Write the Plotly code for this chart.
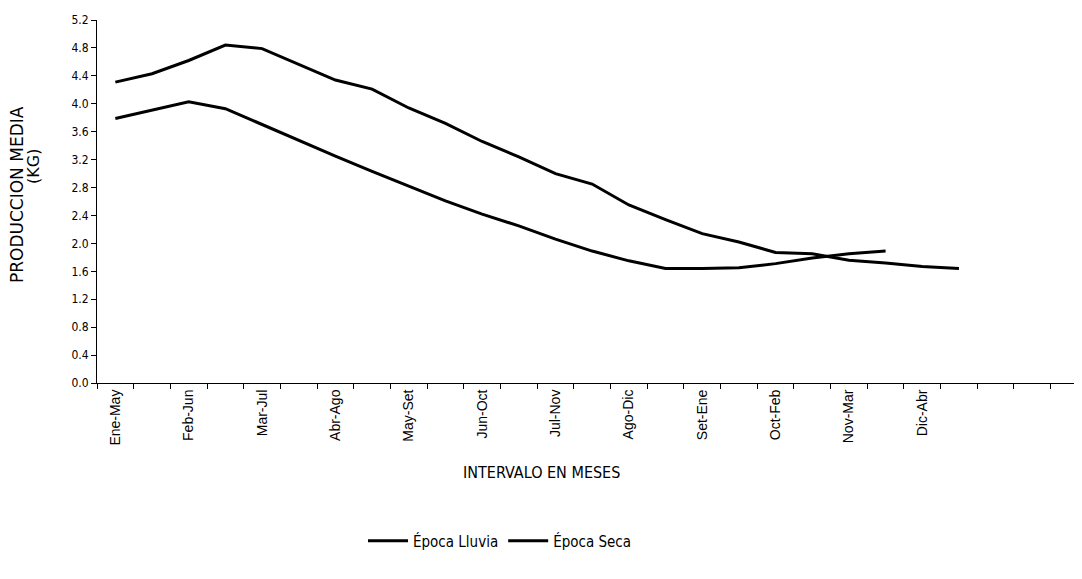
import plotly.graph_objects as go

# Interval labels (every other category is labelled)
tick_labels = ["Ene-May", "Feb-Jun", "Mar-Jul", "Abr-Ago", "May-Set", "Jun-Oct",
               "Jul-Nov", "Ago-Dic", "Set-Ene", "Oct-Feb", "Nov-Mar", "Dic-Abr"]
tick_positions = [0, 2, 4, 6, 8, 10, 12, 14, 16, 18, 20, 22]

# Series values (kg), one per category position
lluvia = [4.31, 4.43, 4.62, 4.84, 4.79, 4.56, 4.34, 4.21, 3.94, 3.72, 3.46, 3.24,
          3.00, 2.85, 2.55, 2.34, 2.14, 2.02, 1.87, 1.85, 1.76, 1.72, 1.67, 1.64]
seca = [3.79, 3.91, 4.03, 3.93, 3.70, 3.47, 3.25, 3.03, 2.82, 2.61, 2.42, 2.25,
        2.06, 1.89, 1.75, 1.64, 1.64, 1.65, 1.71, 1.79, 1.85, 1.89]

x_lluvia = list(range(len(lluvia)))
x_seca = list(range(len(seca)))

FONT = "Liberation Sans Narrow, DejaVu Sans Condensed, Arial Narrow, sans-serif"

fig = go.Figure()
fig.add_trace(go.Scatter(x=x_lluvia, y=lluvia, mode="lines", name="Época Lluvia",
                         line=dict(color="black", width=3)))
fig.add_trace(go.Scatter(x=x_seca, y=seca, mode="lines", name="Época Seca",
                         line=dict(color="black", width=3)))

OFF = 8  # page body margin
W, H = 1082 - OFF, 579 - OFF
L, T = 97 - OFF, 20 - OFF
R = W - (1080 - OFF)
B = H - (383 - OFF)
plot_w = W - L - R
plot_h = H - T - B

def px_to_paper_x(px):
    return (px - OFF - L) / plot_w

def px_to_paper_y(py):
    return (H - B - (py - OFF)) / plot_h

fig.update_layout(
    width=W, height=H,
    margin=dict(l=L, r=R, t=T, b=B, pad=0),
    paper_bgcolor="white", plot_bgcolor="white",
    font=dict(family=FONT, color="black", size=12),
    showlegend=True,
    legend=dict(orientation="h", x=px_to_paper_x(500), y=px_to_paper_y(541),
                xanchor="center", yanchor="middle",
                font=dict(size=15, family=FONT), itemwidth=40,
                bgcolor="rgba(0,0,0,0)", tracegroupgap=0),
)

fig.update_xaxes(
    range=[-0.5, 26.3],
    tickmode="array", tickvals=tick_positions, ticktext=tick_labels,
    tickangle=-90, ticks="", showgrid=False, zeroline=False,
    showline=True, linecolor="black", linewidth=1,
    tickfont=dict(family="Liberation Sans, Arial, sans-serif", size=14),
    minor=dict(ticks="outside", tick0=0.5, dtick=1, ticklen=5,
               tickcolor="black", tickwidth=1, showgrid=False),
)

fig.update_yaxes(
    range=[0, 5.2], tickmode="linear", tick0=0, dtick=0.4, tickformat=".1f",
    ticks="outside", ticklen=5, tickcolor="black", showgrid=False, zeroline=False,
    showline=True, linecolor="black", linewidth=1,
    tickfont=dict(family=FONT, size=12),
)

# Axis titles
fig.add_annotation(text="PRODUCCION MEDIA", xref="paper", yref="paper",
                   x=px_to_paper_x(17), y=px_to_paper_y(195), textangle=-90,
                   showarrow=False, xanchor="center", yanchor="middle",
                   font=dict(family="DejaVu Sans, sans-serif", size=17))
fig.add_annotation(text="(KG)", xref="paper", yref="paper",
                   x=px_to_paper_x(33), y=px_to_paper_y(167), textangle=-90,
                   showarrow=False, xanchor="center", yanchor="middle",
                   font=dict(family="DejaVu Sans, sans-serif", size=16))
fig.add_annotation(text="INTERVALO EN MESES", xref="paper", yref="paper",
                   x=px_to_paper_x(541), y=px_to_paper_y(472),
                   showarrow=False, xanchor="center", yanchor="middle",
                   font=dict(family=FONT, size=16))

fig.write_html("out.html")
